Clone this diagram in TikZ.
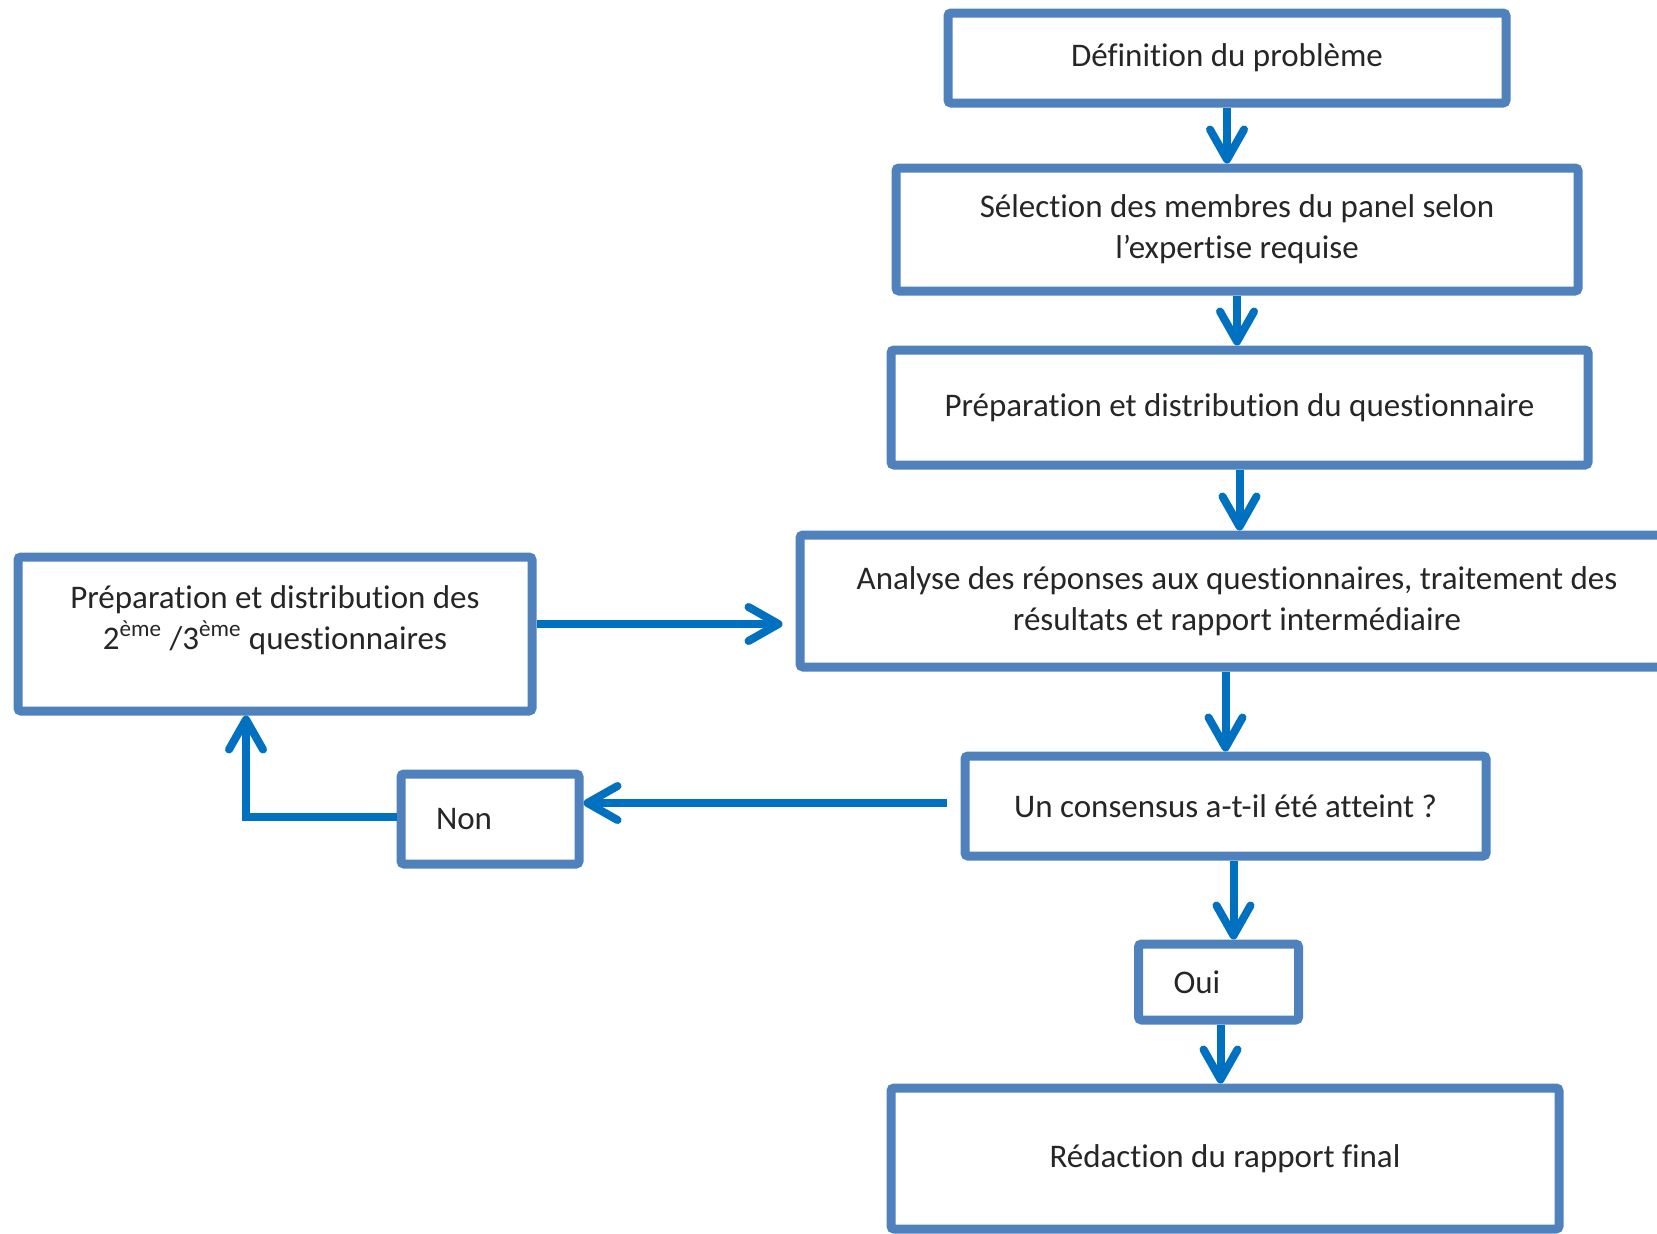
\documentclass[tikz,border=0pt]{standalone}
\usepackage{fontspec}
\setmainfont[Ligatures=NoCommon]{Carlito}
\usepackage{xcolor}
\usetikzlibrary{arrows.meta,positioning,calc}
\definecolor{boxblue}{RGB}{79,129,189}
\definecolor{arrblue}{RGB}{0,112,192}
\definecolor{txtgray}{RGB}{38,38,38}

\begin{document}
\begin{tikzpicture}[
    x=0.5pt, y=-0.5pt,
    every node/.style = {font=\fontsize{16.5}{20.5}\selectfont, text=txtgray, align=center, inner sep=0pt},
    box/.style = {draw=boxblue, line width=4.5pt, fill=white, rounded corners=1.5pt},
    arr/.style = {->, arrblue, line width=4pt},
    >={Straight Barb[length=15pt, width=17pt, round]}
  ]
  \useasboundingbox (0,0) rectangle (1657,1233);

  % 主流程
  \node[box, minimum width=279pt, minimum height=45pt] (def) at (1227,58) {Définition du problème};
  \node[box, minimum width=341pt, minimum height=61.5pt] (sel) at (1237,229.5) {Sélection des membres du panel selon\\l’expertise requise};
  \node[box, minimum width=348.5pt, minimum height=57.5pt] (prep) at (1239.5,407.5) {Préparation et distribution du questionnaire};
  \node[box, minimum width=437pt, minimum height=66pt] (ana) at (1237,601) {Analyse des réponses aux questionnaires, traitement des\\résultats et rapport intermédiaire};
  \node[box, minimum width=260.5pt, minimum height=50pt] (cons) at (1225.5,806) {Un consensus a-t-il été atteint ?};
  \node[box, text width=45pt, align=left, inner xsep=17.5pt, minimum height=38pt] (oui) at (1218.5,982) {Oui};
  \node[box, minimum width=334pt, minimum height=70.5pt] (fin) at (1225,1158.5) {Rédaction du rapport final};

  % 回路
  \node[box, minimum width=257pt, minimum height=77pt] (prep2) at (275,634) {};
  \node (prep2txt) at (275,620) {Préparation et distribution des\\2\textsuperscript{ème} /3\textsuperscript{ème} questionnaires};
  \node[box, text width=54pt, align=left, inner xsep=17.5pt, minimum height=45pt] (non) at (490,819) {Non};

  % 箭头
  \draw[arr] (def.south) -- (def.south |- sel.north);
  \draw[arr] (sel.south) -- (sel.south |- prep.north);
  \draw[arr] (prep.south) -- (prep.south |- ana.north);
  \draw[arr] (ana.south -| cons.north) -- (cons.north);
  \draw[arr] ([xshift=4pt]cons.south) -- ([xshift=4pt]cons.south |- oui.north);
  \draw[arr] ([xshift=1pt]oui.south) -- ([xshift=1pt]oui.south |- fin.north);
  \draw[arr, shorten <=7pt] ([yshift=1.5pt]cons.west) -- ([yshift=1.5pt]cons.west -| non.east);
  \draw[arr] ([yshift=1pt]non.west) -| ([xshift=-14.5pt]prep2.south);
  \draw[arr, shorten >=6.5pt] ([yshift=5pt]prep2.east) -- ([yshift=5pt]prep2.east -| ana.west);
\end{tikzpicture}
\end{document}
